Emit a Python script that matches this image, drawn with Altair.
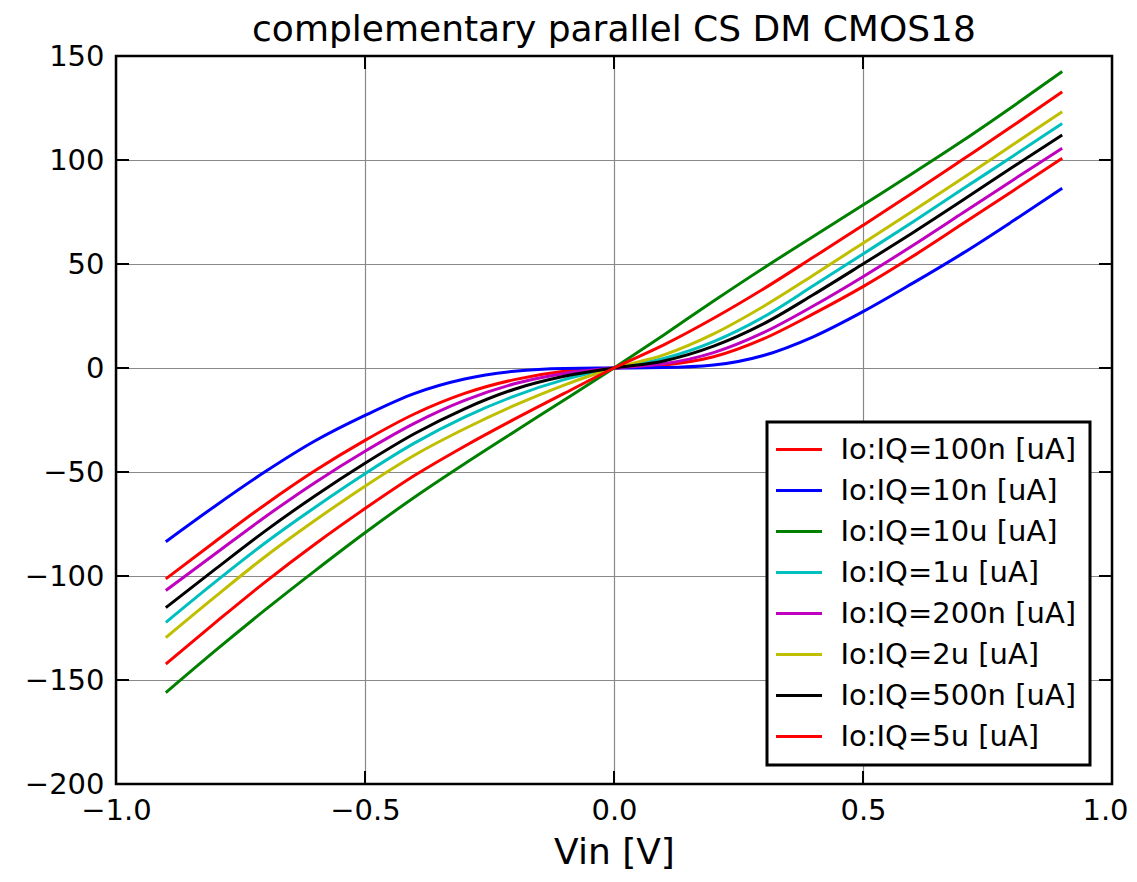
import altair as alt
import pandas as pd

# ---------------- data ----------------
vin = [-0.9, -0.8, -0.7, -0.6, -0.5, -0.4, -0.3, -0.2, -0.1, 0.0,
       0.1, 0.2, 0.3, 0.4, 0.5, 0.6, 0.7, 0.8, 0.9]

series_names = ["Io:IQ=100n [uA]", "Io:IQ=10n [uA]", "Io:IQ=10u [uA]", "Io:IQ=1u [uA]",
                "Io:IQ=200n [uA]", "Io:IQ=2u [uA]", "Io:IQ=500n [uA]", "Io:IQ=5u [uA]"]
series_colors = ["#ff0000", "#0000ff", "#008000", "#00bfbf",
                 "#bf00bf", "#bfbf00", "#000000", "#ff0000"]

i_100n = [-101.4, -83.3, -65.6, -49.3, -34.8, -22.0, -12.2, -5.6, -1.6, 0.0,
          1.4, 5.4, 14.0, 26.0, 39.1, 53.7, 69.3, 85.0, 100.8]
i_10n = [-83.5, -66.2, -49.8, -35.0, -22.8, -12.2, -5.3, -1.6, -0.2, 0.0,
         0.2, 1.4, 6.0, 15.0, 27.1, 40.8, 55.1, 70.5, 86.4]
i_10u = [-156.1, -135.8, -116.2, -97.4, -79.2, -62.0, -46.0, -30.6, -15.4, 0.0,
         15.9, 32.2, 48.0, 63.2, 78.4, 93.6, 109.2, 125.6, 142.5]
i_1u = [-122.3, -102.7, -84.0, -66.9, -50.8, -36.0, -23.6, -13.5, -5.6, 0.0,
        4.6, 12.7, 24.5, 39.5, 54.8, 70.2, 86.0, 101.7, 117.6]
i_200n = [-107.0, -89.2, -71.5, -55.0, -40.0, -26.5, -15.6, -7.6, -2.6, 0.0,
          2.0, 7.4, 17.0, 29.8, 43.9, 58.9, 74.5, 90.2, 105.6]
i_2u = [-129.6, -109.8, -90.6, -73.2, -56.8, -41.8, -29.2, -18.0, -8.2, 0.0,
        6.3, 16.4, 29.6, 44.6, 60.0, 75.5, 91.2, 107.2, 123.2]
i_500n = [-115.2, -96.6, -78.3, -61.4, -45.8, -31.5, -19.6, -10.2, -4.0, 0.0,
          3.4, 10.5, 21.2, 35.2, 50.0, 65.0, 80.6, 96.5, 112.0]
i_5u = [-142.3, -122.3, -102.8, -84.6, -67.6, -51.6, -37.6, -24.6, -12.2, 0.0,
        11.1, 23.9, 38.0, 53.2, 68.6, 84.2, 100.2, 116.3, 132.8]

x_ticks = [-1.0, -0.5, 0.0, 0.5, 1.0]
y_ticks = [-200, -150, -100, -50, 0, 50, 100, 150]

title_text = "complementary parallel CS DM CMOS18"
x_title = "Vin [V]"

# ---------------- build table ----------------
all_series = [i_100n, i_10n, i_10u, i_1u, i_200n, i_2u, i_500n, i_5u]
rows = []
for name, vals in zip(series_names, all_series):
    for x, v in zip(vin, vals):
        rows.append({"Vin": x, "I": v, "series": name})
df = pd.DataFrame(rows)

W, H = 996, 728
FONT = "DejaVu Sans"
TICK = 13

x_scale = alt.Scale(domain=[-1.0, 1.0], nice=False, zero=False)
y_scale = alt.Scale(domain=[-200, 150], nice=False, zero=False)

x_axis = alt.Axis(values=x_ticks, format=".1f", grid=True, ticks=False,
                  domain=False, labelFontSize=29, labelPadding=12,
                  labelOffset={"condition": {"test": "datum.value >= 1", "value": -7},
                               "value": 0},
                  titleFontSize=36, titlePadding=10, titleFontWeight="normal",
                  labelFont=FONT, titleFont=FONT, labelColor="black",
                  titleColor="black", gridColor="#888888", gridWidth=1.2,
                  labelFlush=False)
y_axis = alt.Axis(values=y_ticks, grid=True, ticks=False, domain=False,
                  labelFontSize=29, labelPadding=12, labelFont=FONT,
                  labelColor="black", gridColor="#888888", gridWidth=1.2,
                  labelFlush=False)


def X():
    return alt.X("Vin:Q", scale=x_scale, title=x_title, axis=x_axis)


def Y():
    return alt.Y("I:Q", scale=y_scale, title=None, axis=y_axis)


lines = alt.Chart(df).mark_line(strokeWidth=3, interpolate="monotone").encode(
    x=X(),
    y=Y(),
    color=alt.Color("series:N",
                    scale=alt.Scale(domain=series_names, range=series_colors),
                    legend=alt.Legend(title=None, orient="none", legendX=651, legendY=366,
                                      symbolType="M-1.84,0L1.84,0", symbolSize=625,
                                      symbolStrokeWidth=3, symbolOffset=4.5,
                                      labelOffset=27, labelFontSize=29, labelFont=FONT,
                                      labelColor="black", labelLimit=500,
                                      rowPadding=11, padding=13,
                                      strokeColor="black", fillColor="white")),
    order=alt.Order("series:N"),
)

xt = pd.DataFrame({"Vin": x_ticks})
yt = pd.DataFrame({"I": y_ticks})

tick_bottom = alt.Chart(xt).mark_rule(color="black", strokeWidth=2).encode(
    x=X(), y=alt.value(H), y2=alt.value(H - TICK))
tick_top = alt.Chart(xt).mark_rule(color="black", strokeWidth=2).encode(
    x=X(), y=alt.value(0), y2=alt.value(TICK))
tick_left = alt.Chart(yt).mark_rule(color="black", strokeWidth=2).encode(
    y=Y(), x=alt.value(0), x2=alt.value(TICK))
tick_right = alt.Chart(yt).mark_rule(color="black", strokeWidth=2).encode(
    y=Y(), x=alt.value(W), x2=alt.value(W - TICK))

frame = alt.Chart(pd.DataFrame({"k": [0]})).mark_rect(
    fill=None, stroke="black", strokeWidth=2.5).encode(
    x=alt.value(0), x2=alt.value(W), y=alt.value(0), y2=alt.value(H))

chart = alt.layer(lines, tick_bottom, tick_top, tick_left, tick_right, frame).properties(
    width=W, height=H,
    title=alt.TitleParams(title_text, fontSize=36, font=FONT, fontWeight="normal",
                          color="black", offset=-7, anchor="middle", frame="group"),
    padding={"left": 108, "top": 48, "right": 17, "bottom": 88},
    autosize=alt.AutoSizeParams(type="none"),
).configure_view(stroke=None).configure_legend(strokeWidth=3)

chart.save("out.html", embed_options={"renderer": "svg", "actions": False})
